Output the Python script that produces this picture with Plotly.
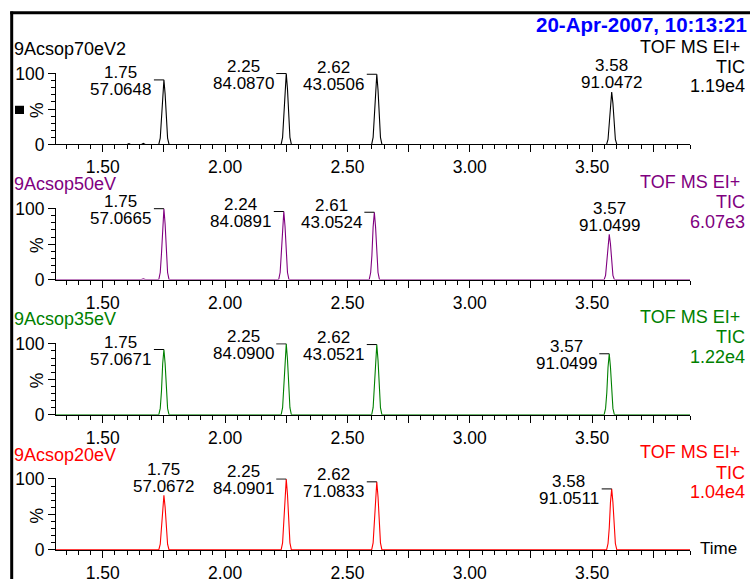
import plotly.graph_objects as go

# ---------------------------------------------------------------- data
# Total ion chromatograms (relative intensity, %) for four collision energies
P1_TIME = [1.309, 1.600, 1.607, 1.614, 1.658, 1.666, 1.674,
           1.729, 1.735, 1.740, 1.745, 1.750, 1.755, 1.760, 1.765, 1.771,
           2.229, 2.235, 2.240, 2.245, 2.250, 2.255, 2.260, 2.265, 2.271,
           2.599, 2.605, 2.610, 2.615, 2.620, 2.625, 2.630, 2.635, 2.641,
           3.559, 3.565, 3.570, 3.575, 3.580, 3.585, 3.590, 3.595, 3.601,
           3.900]
P1_TIC = [0, 0, 1.2, 0, 0, 1.5, 0,
          0, 9, 33, 71, 91, 71, 33, 9, 0,
          0, 10, 36, 78, 100, 78, 36, 10, 0,
          0, 10, 36, 77, 99, 77, 36, 10, 0,
          0, 7, 27, 58, 74, 58, 27, 7, 0,
          0]

P2_TIME = [1.309, 1.658, 1.666, 1.674,
           1.729, 1.735, 1.740, 1.745, 1.750, 1.755, 1.760, 1.765, 1.771,
           2.219, 2.225, 2.230, 2.235, 2.240, 2.245, 2.250, 2.255, 2.261,
           2.589, 2.595, 2.600, 2.605, 2.610, 2.615, 2.620, 2.625, 2.631,
           3.549, 3.555, 3.560, 3.565, 3.570, 3.575, 3.580, 3.585, 3.591,
           3.900]
P2_TIC = [0, 0, 1.2, 0,
          0, 10, 36, 78, 100, 78, 36, 10, 0,
          0, 10, 35, 75, 96, 75, 35, 10, 0,
          0, 10, 34, 74, 95, 74, 34, 10, 0,
          0, 6, 23, 50, 64, 50, 23, 6, 0,
          0]

P3_TIME = [1.309, 1.658, 1.666, 1.674,
           1.729, 1.735, 1.740, 1.745, 1.750, 1.755, 1.760, 1.765, 1.771,
           2.229, 2.235, 2.240, 2.245, 2.250, 2.255, 2.260, 2.265, 2.271,
           2.599, 2.605, 2.610, 2.615, 2.620, 2.625, 2.630, 2.635, 2.641,
           3.549, 3.555, 3.560, 3.565, 3.570, 3.575, 3.580, 3.585, 3.591,
           3.900]
P3_TIC = [0, 0, 1.0, 0,
          0, 9, 33, 72, 92, 72, 33, 9, 0,
          0, 10, 36, 78, 100, 78, 36, 10, 0,
          0, 10, 36, 77, 99, 77, 36, 10, 0,
          0, 9, 31, 67, 86, 67, 31, 9, 0,
          0]

P4_TIME = [1.309, 1.658, 1.666, 1.674,
           1.729, 1.735, 1.740, 1.745, 1.750, 1.755, 1.760, 1.765, 1.771,
           2.229, 2.235, 2.240, 2.245, 2.250, 2.255, 2.260, 2.265, 2.271,
           2.599, 2.605, 2.610, 2.615, 2.620, 2.625, 2.630, 2.635, 2.641,
           3.559, 3.565, 3.570, 3.575, 3.580, 3.585, 3.590, 3.595, 3.601,
           3.900]
P4_TIC = [0, 0, 1.0, 0,
          0, 8, 28, 60, 77, 60, 28, 8, 0,
          0, 10, 36, 78, 100, 78, 36, 10, 0,
          0, 10, 35, 75, 96, 75, 35, 10, 0,
          0, 9, 31, 67, 86, 67, 31, 9, 0,
          0]

# peak annotations: retention time and base-peak mass
P1_RT = ["1.75", "2.25", "2.62", "3.58"]
P1_MASS = ["57.0648", "84.0870", "43.0506", "91.0472"]
P2_RT = ["1.75", "2.24", "2.61", "3.57"]
P2_MASS = ["57.0665", "84.0891", "43.0524", "91.0499"]
P3_RT = ["1.75", "2.25", "2.62", "3.57"]
P3_MASS = ["57.0671", "84.0900", "43.0521", "91.0499"]
P4_RT = ["1.75", "2.25", "2.62", "3.58"]
P4_MASS = ["57.0672", "84.0901", "71.0833", "91.0511"]

SAMPLES = ["9Acsop70eV2", "9Acsop50eV", "9Acsop35eV", "9Acsop20eV"]
SCALE = ["1.19e4", "6.07e3", "1.22e4", "1.04e4"]
X_TICKS = [1.50, 1.75, 2.00, 2.25, 2.50, 2.75, 3.00, 3.25, 3.50, 3.75]
X_LABELS = ["1.50", "", "2.00", "", "2.50", "", "3.00", "", "3.50", ""]
Y_TICKS = [0, 50, 100]
Y_LABELS = ["0", "", "100"]
ACQ_DATE = "20-Apr-2007, 10:13:21"

# ---------------------------------------------------------------- layout
W, H = 750, 587
FONT = "Liberation Sans, Arial, sans-serif"
FS_HEAD = 18      # sample names and detector info
FS_TICK = 17.5    # axis numbers
FS_PEAK = 17      # peak labels
COLORS = ["#000000", "#800080", "#008000", "#ff0000"]
X0_PIX, X1_PIX = 56, 690
ZERO0, STEP, SPAN = 140.0, 139.67, 73.3
YMAX = 101


def px(x):
    return x / W


def py(y):
    return 1 - y / H


panels = [
    (P1_TIME, P1_TIC, P1_RT, P1_MASS),
    (P2_TIME, P2_TIC, P2_RT, P2_MASS),
    (P3_TIME, P3_TIC, P3_RT, P3_MASS),
    (P4_TIME, P4_TIC, P4_RT, P4_MASS),
]

fig = go.Figure()
layout = dict(
    width=W, height=H, autosize=False,
    margin=dict(l=0, r=0, t=0, b=0),
    paper_bgcolor="white", plot_bgcolor="white",
    showlegend=False,
    font=dict(family=FONT, size=FS_TICK, color="black"),
)
annotations = []
shapes = []

x_range = [1.309, 3.90]
px_per_min = (X1_PIX - X0_PIX) / (x_range[1] - x_range[0])
bracket_len = 10 / px_per_min

for k, (t, v, rts, masses) in enumerate(panels):
    n = "" if k == 0 else str(k + 1)
    zero_pix = ZERO0 + STEP * k
    top_pix = zero_pix - SPAN * YMAX / 100
    color = COLORS[k]
    xa, ya = "x" + n, "y" + n

    fig.add_trace(go.Scatter(
        x=t, y=v, mode="lines", xaxis=xa, yaxis=ya,
        line=dict(color=color, width=1.1), hoverinfo="skip",
    ))

    layout["xaxis" + n] = dict(
        domain=[px(X0_PIX), px(X1_PIX)], anchor=ya, range=x_range,
        showgrid=False, zeroline=False, showline=True,
        linecolor="black", linewidth=1,
        tickmode="array", tickvals=X_TICKS, ticktext=X_LABELS,
        ticks="outside", ticklen=7, tickwidth=1, tickcolor="black",
        tickfont=dict(family=FONT, size=FS_TICK, color="black"),
        minor=dict(dtick=0.05, tick0=1.5, ticks="outside", ticklen=4,
                   tickwidth=1, tickcolor="black", showgrid=False),
    )
    layout["yaxis" + n] = dict(
        domain=[py(zero_pix), py(top_pix)], anchor=xa, range=[0, YMAX],
        showgrid=False, zeroline=False, showline=True,
        linecolor="black", linewidth=1,
        tickmode="array", tickvals=Y_TICKS, ticktext=Y_LABELS,
        ticks="outside", ticklen=7, tickwidth=1, tickcolor="black",
        tickfont=dict(family=FONT, size=FS_TICK, color="black"),
        minor=dict(dtick=10, tick0=0, ticks="outside", ticklen=4,
                   tickwidth=1, tickcolor="black", showgrid=False),
    )

    # panel header texts
    annotations.append(dict(
        text=SAMPLES[k], xref="paper", yref="paper", x=px(12.5),
        y=py(zero_pix - 98.5), xanchor="left", yanchor="middle",
        showarrow=False, borderpad=0,
        font=dict(family=FONT, size=FS_HEAD, color=color)))
    for txt, dy, xr in (("TOF MS EI+", 101, 741), ("TIC", 80, 746),
                        (SCALE[k], 60, 746)):
        annotations.append(dict(
            text=txt, xref="paper", yref="paper", x=px(xr),
            y=py(zero_pix - dy), xanchor="right", yanchor="middle",
            showarrow=False, borderpad=0,
            font=dict(family=FONT, size=FS_HEAD, color=color)))

    # "%" axis label
    annotations.append(dict(
        text="%", xref="paper", yref="paper", x=px(37),
        y=py(zero_pix - SPAN / 2 + 1), xanchor="center", yanchor="middle",
        textangle=-90, showarrow=False, borderpad=0,
        font=dict(family=FONT, size=FS_TICK, color="black")))

    # peak labels: beside the apex with a leader tick, or above short peaks
    for rt, mass in zip(rts, masses):
        t_apex = float(rt)
        h = v[t.index(t_apex)]
        if h < 80:
            xs, y_rt, y_mass = 0, 26, 9
        else:
            xs, y_rt, y_mass = -43, 7, -10
            shapes.append(dict(
                type="line", xref=xa, yref=ya,
                x0=t_apex - bracket_len, x1=t_apex, y0=h, y1=h,
                line=dict(color="black", width=1)))
        for txt, ys in ((rt, y_rt), (mass, y_mass)):
            annotations.append(dict(
                text=txt, xref=xa, yref=ya, x=t_apex, y=h,
                xanchor="center", yanchor="middle", xshift=xs, yshift=ys,
                showarrow=False, borderpad=0,
                font=dict(family=FONT, size=FS_PEAK, color="black")))

# acquisition stamp and axis caption
annotations.append(dict(
    text="<b>" + ACQ_DATE + "</b>", xref="paper", yref="paper",
    x=px(748), y=py(16.5), xanchor="right", yanchor="middle",
    showarrow=False, borderpad=0,
    font=dict(family=FONT, size=20.5, color="#0000ff")))
annotations.append(dict(
    text="Time", xref="paper", yref="paper", x=px(699),
    y=py(ZERO0 + STEP * 3 - 1), xanchor="left", yanchor="middle",
    showarrow=False, borderpad=0,
    font=dict(family=FONT, size=FS_PEAK, color="black")))

# window frame and marker square
shapes.append(dict(type="line", xref="paper", yref="paper",
                   x0=px(11.7), x1=px(11.7), y0=py(2.5), y1=py(H + 2),
                   line=dict(color="black", width=3)))
shapes.append(dict(type="line", xref="paper", yref="paper",
                   x0=px(10.2), x1=px(W + 2), y0=py(4), y1=py(4),
                   line=dict(color="black", width=3)))
shapes.append(dict(type="rect", xref="paper", yref="paper",
                   x0=px(15), x1=px(24), y0=py(100), y1=py(108.5),
                   fillcolor="black", line=dict(width=0)))

layout["annotations"] = annotations
layout["shapes"] = shapes
fig.update_layout(**layout)

fig.write_html("out.html")
